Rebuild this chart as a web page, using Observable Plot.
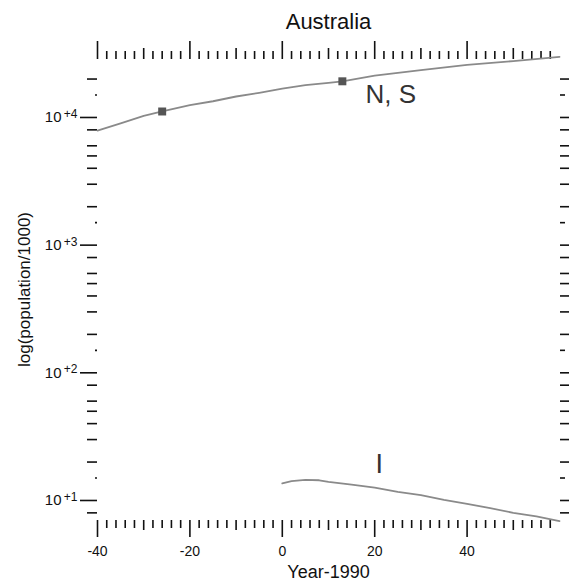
<!DOCTYPE html>
<html><head><meta charset="utf-8">
<script src="https://cdn.jsdelivr.net/npm/d3@7"></script>
<script src="https://cdn.jsdelivr.net/npm/@observablehq/plot@0.6"></script>
<style>
html,body{margin:0;padding:0;background:#fff;overflow:hidden;}
</style>
</head><body><div id="chart"></div>
<script>
// N, S series (population in thousands, by Year-1990)
const yearsNS = [-40, -35, -30, -26, -20, -15, -10, -5, 0, 5, 10, 13, 20, 30, 40, 50, 60];
const popNS   = [7900, 9000, 10300, 11140, 12500, 13400, 14600, 15600, 16800, 17900, 18700, 19200, 21300, 23500, 25800, 27650, 29800];
// marked points on N, S
const markYears = [-26, 13];
const markPop   = [11140, 19200];
// I series
const yearsI = [0, 2, 5, 8, 10, 15, 20, 25, 30, 35, 40, 45, 50, 55, 60];
const popI   = [13.6, 14.2, 14.5, 14.4, 14.0, 13.3, 12.6, 11.7, 11.0, 10.1, 9.4, 8.7, 8.0, 7.5, 6.9];
// series labels
const labelNS = {t: "N, S", x: 18.0, y: 12870};
const labelI  = {t: "I", x: 21.0, y: 16.56};

// ticks
const xMajorTicks  = [-40, -20, 0, 20, 40];
const xMediumTicks = [-30, -10, 10, 30, 50];
const xMinorTicks  = [-38,-36,-34,-32,-28,-26,-24,-22,-18,-16,-14,-12,-8,-6,-4,-2,2,4,6,8,12,14,16,18,22,24,26,28,32,34,36,38,42,44,46,48,52,54,56,58];
const yMajorTicks  = [10, 100, 1000, 10000];
const yMajorExp    = ["+1", "+2", "+3", "+4"];
const yMinorTicks  = [8, 20, 30, 40, 50, 60, 80, 200, 300, 400, 500, 600, 800, 2000, 3000, 4000, 5000, 6000, 8000, 20000];
const yDotTicks    = [15, 150, 1500, 15000];

const nsData = yearsNS.map((x, i) => ({x, y: popNS[i]}));
const iData = yearsI.map((x, i) => ({x, y: popI[i]}));
const markData = markYears.map((x, i) => ({x, y: markPop[i]}));
const majorLabels = yMajorTicks.map((v, i) => ({v, e: yMajorExp[i]}));

const ink = "#111";
const tickW = 1.6;
const noText = () => "";

const chart = Plot.plot({
  width: 569, height: 584,
  marginLeft: 97, marginRight: 10, marginTop: 58, marginBottom: 64,
  style: {fontFamily: "'Liberation Sans', Arial, sans-serif", background: "#fff", color: ink, overflow: "visible"},
  x: {domain: [-40, 60], axis: null},
  y: {type: "log", domain: [6.97, 28970], axis: null},
  marks: [
    // bottom axis
    Plot.axisX(xMajorTicks, {anchor: "bottom", tickSize: 17, tickPadding: 9, fontSize: 14, tickFormat: d => String(d), label: null, stroke: ink, strokeWidth: tickW}),
    Plot.axisX(xMediumTicks, {anchor: "bottom", tickSize: 10, tickFormat: noText, label: null, stroke: ink, strokeWidth: tickW}),
    Plot.axisX(xMinorTicks, {anchor: "bottom", tickSize: 8, tickFormat: noText, label: null, stroke: ink, strokeWidth: tickW}),
    // top axis
    Plot.axisX(xMajorTicks, {anchor: "top", tickSize: 18, tickFormat: noText, label: null, stroke: ink, strokeWidth: tickW}),
    Plot.axisX(xMediumTicks, {anchor: "top", tickSize: 11, tickFormat: noText, label: null, stroke: ink, strokeWidth: tickW}),
    Plot.axisX(xMinorTicks, {anchor: "top", tickSize: 8, tickFormat: noText, label: null, stroke: ink, strokeWidth: tickW}),
    // left axis
    Plot.axisY(yMajorTicks, {anchor: "left", tickSize: 17, tickFormat: noText, label: null, stroke: ink, strokeWidth: tickW}),
    Plot.axisY(yMinorTicks, {anchor: "left", tickSize: 10, tickFormat: noText, label: null, stroke: ink, strokeWidth: tickW}),
    Plot.axisY(yDotTicks, {anchor: "left", tickSize: 2, tickFormat: noText, label: null, stroke: ink, strokeWidth: tickW}),
    // right axis
    Plot.axisY(yMajorTicks, {anchor: "right", tickSize: 18, tickFormat: noText, label: null, stroke: ink, strokeWidth: tickW}),
    Plot.axisY(yMinorTicks, {anchor: "right", tickSize: 12, tickFormat: noText, label: null, stroke: ink, strokeWidth: tickW}),
    Plot.axisY(yDotTicks, {anchor: "right", tickSize: 5, tickFormat: noText, label: null, stroke: ink, strokeWidth: tickW}),
    // y tick labels 10^+n
    Plot.text(majorLabels, {y: "v", frameAnchor: "left", text: () => "10", textAnchor: "end", dx: -36, fontSize: 15, fill: ink}),
    Plot.text(majorLabels, {y: "v", frameAnchor: "left", text: "e", textAnchor: "end", lineAnchor: "top", dx: -20, dy: -8, fontSize: 12, fill: ink}),
    // titles
    Plot.text(["Australia"], {frameAnchor: "top", text: d => d, textAnchor: "middle", lineAnchor: "bottom", dy: -30, fontSize: 22, fill: ink}),
    Plot.text(["Year-1990"], {frameAnchor: "bottom", text: d => d, textAnchor: "middle", lineAnchor: "bottom", dy: 57, fontSize: 18, fill: ink}),
    Plot.text(["log(population/1000)"], {frameAnchor: "left", text: d => d, rotate: -90, textAnchor: "middle", lineAnchor: "middle", dx: -73, fontSize: 17, fill: ink}),
    // series
    Plot.line(nsData, {x: "x", y: "y", stroke: "#8a8a8a", strokeWidth: 1.8}),
    Plot.line(iData, {x: "x", y: "y", stroke: "#8a8a8a", strokeWidth: 1.8}),
    Plot.dot(markData, {x: "x", y: "y", symbol: "square", r: 4.5, fill: "#555", stroke: null}),
    Plot.text([labelNS], {x: "x", y: "y", text: "t", textAnchor: "start", lineAnchor: "bottom", fontSize: 26, fill: "#333"}),
    Plot.text([labelI], {x: "x", y: "y", text: "t", textAnchor: "middle", lineAnchor: "bottom", fontSize: 27, fill: "#333"})
  ]
});
document.getElementById("chart").appendChild(chart);
</script>
</body></html>
